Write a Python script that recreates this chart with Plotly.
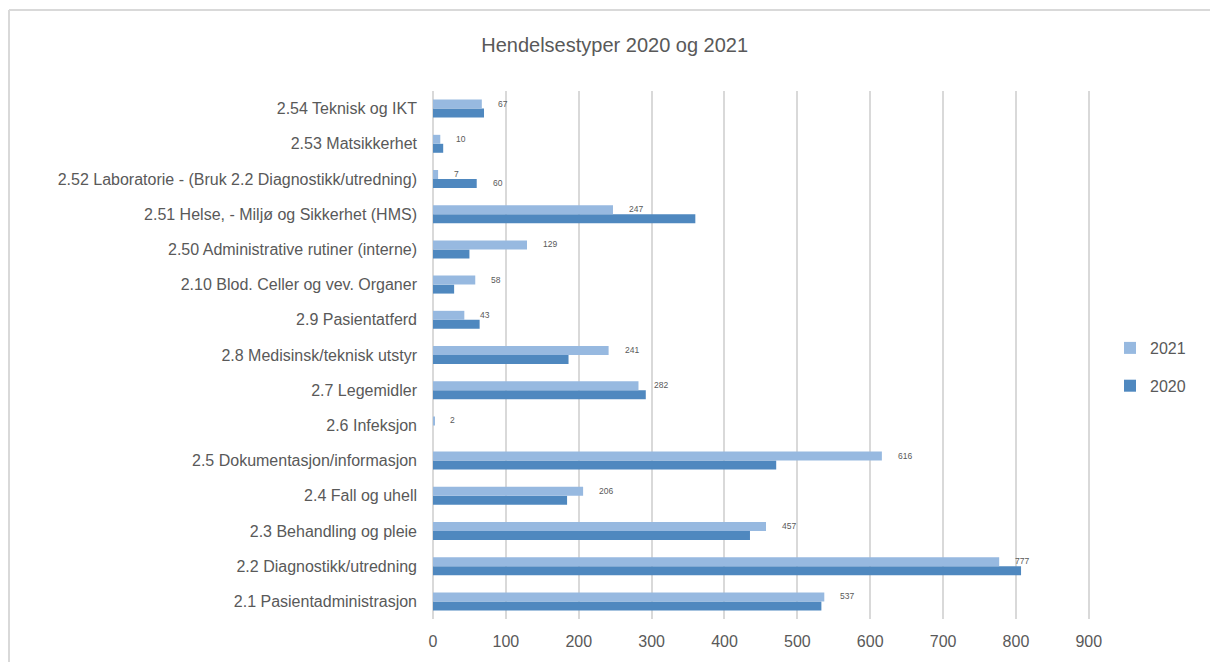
import plotly.graph_objects as go

categories = [
    "2.1 Pasientadministrasjon",
    "2.2 Diagnostikk/utredning",
    "2.3 Behandling og pleie",
    "2.4 Fall og uhell",
    "2.5 Dokumentasjon/informasjon",
    "2.6 Infeksjon",
    "2.7 Legemidler",
    "2.8 Medisinsk/teknisk utstyr",
    "2.9 Pasientatferd",
    "2.10 Blod. Celler og vev. Organer",
    "2.50 Administrative rutiner (interne)",
    "2.51 Helse, - Miljø og Sikkerhet (HMS)",
    "2.52 Laboratorie - (Bruk 2.2 Diagnostikk/utredning)",
    "2.53 Matsikkerhet",
    "2.54 Teknisk og IKT",
]
values_2021 = [537, 777, 457, 206, 616, 2, 282, 241, 43, 58, 129, 247, 7, 10, 67]
values_2020 = [533, 807, 435, 184, 471, 0, 292, 186, 64, 29, 50, 360, 60, 14, 70]
labels_2021 = [str(v) for v in values_2021]
labels_2020 = ["", "", "", "", "", "", "", "", "", "", "", "", "60", "", ""]
x_ticks = [0, 100, 200, 300, 400, 500, 600, 700, 800, 900]

C2021 = "#97B9E0"
C2020 = "#4F88BF"
GRID = "#D9D9D9"
TXT = "#595959"
FONT = "Liberation Sans, Arial, sans-serif"

fig = go.Figure()
fig.add_trace(go.Bar(y=categories, x=values_2020, orientation="h", name="2020",
                     marker=dict(color=C2020, line=dict(width=0)), legendgroup="g2020",
                     legendrank=2))
fig.add_trace(go.Bar(y=categories, x=values_2021, orientation="h", name="2021",
                     marker=dict(color=C2021, line=dict(width=0)), legendgroup="g2021",
                     legendrank=1))

annotations = []
for cat, v, t in zip(categories, values_2021, labels_2021):
    if t:
        annotations.append(dict(x=v, y=cat, text=t, showarrow=False, xanchor="left",
                                xshift=14, yshift=5, font=dict(size=8.5, color=TXT, family=FONT)))
for cat, v, t in zip(categories, values_2020, labels_2020):
    if t:
        annotations.append(dict(x=v, y=cat, text=t, showarrow=False, xanchor="left",
                                xshift=14, yshift=-4, font=dict(size=8.5, color=TXT, family=FONT)))

W, H = 1210, 662
L, R, T, B = 433, 119, 91, 43
pw, ph = W - L - R, H - T - B

def px_x(p):
    return (p - L) / pw

def px_y(p):
    return (H - B - p) / ph

shapes = [
    dict(type="line", xref="paper", yref="paper", x0=px_x(9), x1=px_x(1215),
         y0=px_y(10), y1=px_y(10), line=dict(color=GRID, width=2)),
    dict(type="line", xref="paper", yref="paper", x0=px_x(9), x1=px_x(9),
         y0=px_y(10), y1=px_y(670), line=dict(color=GRID, width=2)),
]

fig.update_layout(
    width=W, height=H,
    margin=dict(l=L, r=R, t=T, b=B),
    paper_bgcolor="white", plot_bgcolor="white",
    barmode="group", bargap=0.49, bargroupgap=0,
    title=dict(text="Hendelsestyper 2020 og 2021", x=0.508, xanchor="center",
               y=1 - 45 / H, yanchor="middle", yref="container",
               font=dict(size=20, color=TXT, family=FONT)),
    font=dict(family=FONT, color=TXT),
    legend=dict(x=px_x(1110), y=px_y(367), xanchor="left", yanchor="middle",
                traceorder="grouped", tracegroupgap=14,
                font=dict(size=16, color=TXT, family=FONT), bgcolor="rgba(0,0,0,0)"),
    xaxis=dict(range=[0, 903], tickvals=x_ticks, showgrid=True, gridcolor=GRID, gridwidth=2,
               zeroline=True, zerolinecolor=GRID, zerolinewidth=2, showline=False,
               tickfont=dict(size=16, color=TXT, family=FONT), ticklabelstandoff=11,
               fixedrange=True),
    yaxis=dict(type="category", showgrid=False, zeroline=False, showline=False,
               tickfont=dict(size=16, color=TXT, family=FONT), ticklabelstandoff=15,
               fixedrange=True),
    annotations=annotations,
    shapes=shapes,
)

fig.write_html("out.html", config={"displayModeBar": False},
               post_script="document.body.style.margin='0';")
